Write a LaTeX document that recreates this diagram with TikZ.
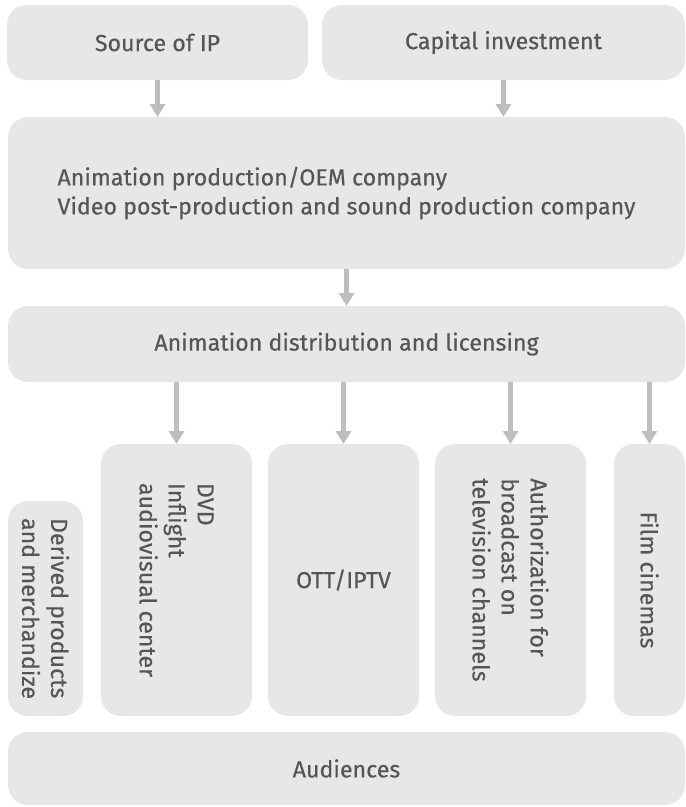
\documentclass[tikz,border=0pt]{standalone}
\usepackage{fontspec}
\setmainfont{Fira Sans}[FakeBold=0.35]
\usetikzlibrary{arrows.meta}
\definecolor{boxfill}{HTML}{E6E7E8}
\definecolor{txtc}{HTML}{545557}
\definecolor{arrowc}{HTML}{BCBEC0}
\begin{document}
\begin{tikzpicture}[x=1pt,y=-1pt,
  box/.style={fill=boxfill, rounded corners=20pt, inner sep=0pt, outer sep=0pt, text=txtc,
    font=\fontsize{23.2}{29}\selectfont, align=center},
  vtext/.style={rotate=-90, inner sep=0pt, text=txtc, font=\fontsize{23.2}{29}\selectfont, align=left},
  flow/.style={draw=arrowc, line width=5pt, -{Triangle[width=15pt,length=13pt]}}]
\useasboundingbox (0,0) rectangle (686,807);
% top row
\node[box, minimum width=301pt, minimum height=75pt] (src) at (157.5,42.5) {Source of IP};
\node[box, minimum width=363pt, minimum height=75pt] (cap) at (503.5,42.5) {Capital investment};
% production
\node[box, minimum width=677pt, minimum height=152pt, align=left] (prod) at (346.5,193)
  {Animation production/OEM company\\Video post-production and sound production company};
% distribution
\node[box, minimum width=677pt, minimum height=76pt] (dist) at (346.5,344) {Animation distribution and licensing};
% channels
\node[box, minimum width=75pt, minimum height=215pt] (der) at (45.5,608.5) {};
\node[vtext] (derT) at (der) {Derived products\\and merchandize};
\node[box, minimum width=151pt, minimum height=272pt] (dvd) at (176.5,580) {};
\node[vtext] (dvdT) at (dvd) {DVD\\Inflight\\audiovisual center};
\node[box, minimum width=151pt, minimum height=272pt] (ott) at (343.5,580) {OTT/IPTV};
\node[box, minimum width=151pt, minimum height=272pt] (auth) at (510.5,580) {};
\node[vtext] (authT) at (auth) {Authorization for\\broadcast on\\television channels};
\node[box, minimum width=71pt, minimum height=272pt] (film) at (649.5,580) {};
\node[vtext] (filmT) at (film) {Film cinemas};
% audiences
\node[box, minimum width=677pt, minimum height=73pt] (aud) at (346.5,768.5) {Audiences};
% arrows
\draw[flow] (src.south) -- (src.south |- prod.north);
\draw[flow] (cap.south) -- (cap.south |- prod.north);
\draw[flow] (prod.south) -- (prod.south |- dist.north);
\draw[flow] (dist.south -| dvd.north) -- (dvd.north);
\draw[flow] (dist.south -| ott.north) -- (ott.north);
\draw[flow] (dist.south -| auth.north) -- (auth.north);
\draw[flow] (dist.south -| film.north) -- (film.north);
\end{tikzpicture}
\end{document}
